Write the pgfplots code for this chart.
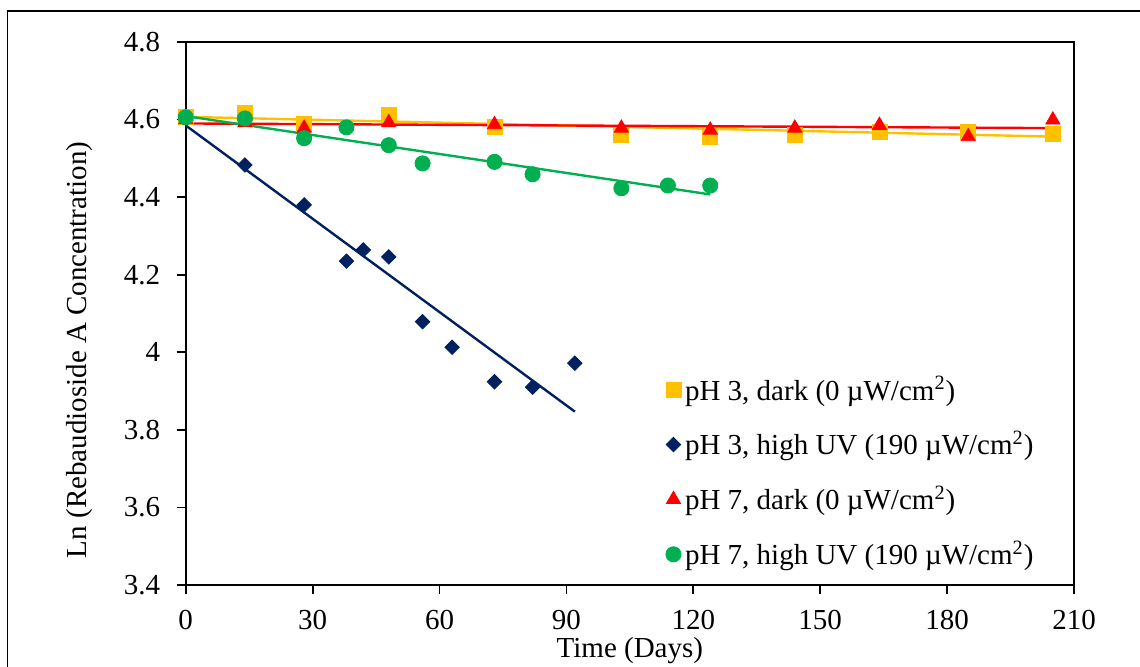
\documentclass[border=0pt]{standalone}
\usepackage{fontspec}
\setmainfont{Liberation Serif}
\usepackage{pgfplots}
\pgfplotsset{compat=1.18}

\definecolor{cdark3}{HTML}{FFC000}
\definecolor{cuv3}{HTML}{002060}
\definecolor{cdark7}{HTML}{FF0000}
\definecolor{cuv7}{HTML}{00B050}

\begin{document}
\begin{tikzpicture}[font=\fontsize{14.5}{17.4}\selectfont]
\clip (-92.85pt,-40.5pt) rectangle (477.15pt,292.5pt);
\path[use as bounding box] (-92.85pt,-40.5pt) rectangle (477.15pt,292.5pt);
% chart area frame (only left and top edges fall inside the picture)
\draw[line width=0.8pt] (-89.1pt,-80pt) rectangle (520pt,287pt);
\begin{axis}[
    scale only axis,
    width=444.15pt,
    height=271.5pt,
    xmin=0, xmax=210,
    ymin=3.4, ymax=4.8,
    xtick={0,30,60,90,120,150,180,210},
    ytick={3.4,3.6,3.8,4,4.2,4.4,4.6,4.8},
    yticklabels={3.4,3.6,3.8,4,4.2,4.4,4.6,4.8},
    tick align=outside,
    major tick length=4.5pt,
    tick style={black, line width=0.9pt},
    axis line style={line width=1pt},
    /pgf/number format/assume math mode=true,
    tick label style={font=\fontsize{14.5}{17.4}\selectfont},
    yticklabel style={xshift=-4.8pt},
    xticklabel style={yshift=-4.5pt},
    xtick pos=bottom, ytick pos=left,
    clip=false,
    xlabel={Time (Days)},
    ylabel={Ln (Rebaudioside A Concentration)},
    xlabel style={at={(axis description cs:0.5,-0.1215)}, anchor=center},
    ylabel style={at={(axis description cs:-0.119,0.433)}, anchor=center, rotate=0},
    legend cell align=left,
    legend style={draw=none, fill=none, at={(axis cs:112,3.96)}, anchor=north west,
        row sep=10pt, font=\fontsize{14.5}{17.4}\selectfont},
    legend image code/.code={\draw[#1] plot coordinates {(0.15cm,0cm)};},
]
% pH 3, dark
\addplot[only marks, mark=square*, mark size=3.75pt, color=cdark3] coordinates {
    (0,4.606) (14,4.616) (28,4.589) (48,4.612) (73,4.582) (103,4.560)
    (124,4.556) (144,4.560) (164,4.567) (185,4.569) (205,4.562)
};
\addlegendentry{pH 3, dark (0 µW/cm\textsuperscript{2})}
% pH 3, high UV
\addplot[only marks, mark=square*, mark options={rotate=45}, mark size=2.55pt, color=cuv3] coordinates {
    (0,4.605) (14,4.483) (28,4.380) (38,4.235) (42,4.264) (48,4.246)
    (56,4.079) (63,4.013) (73,3.924) (82,3.910) (92,3.972)
};
\addlegendentry{pH 3, high UV (190 µW/cm\textsuperscript{2})}
% pH 7, dark
\addplot[only marks, mark=triangle*, mark size=4.1pt, color=cdark7] coordinates {
    (0,4.600) (14,4.592) (28,4.578) (48,4.592) (73,4.587) (103,4.578)
    (124,4.573) (144,4.578) (164,4.585) (185,4.556) (205,4.599)
};
\addlegendentry{pH 7, dark (0 µW/cm\textsuperscript{2})}
% pH 7, high UV
\addplot[only marks, mark=*, mark size=3.8pt, color=cuv7] coordinates {
    (0,4.606) (14,4.603) (28,4.552) (38,4.580) (48,4.534) (56,4.487)
    (73,4.491) (82,4.459) (103,4.423) (114,4.430) (124,4.430)
};
\addlegendentry{pH 7, high UV (190 µW/cm\textsuperscript{2})}
% linear trendlines
\addplot[forget plot, color=cdark3, line width=1.2pt] coordinates {(0,4.607) (205,4.556)};
\addplot[forget plot, color=cuv3, line width=1.2pt] coordinates {(0,4.585) (92,3.847)};
\addplot[forget plot, color=cdark7, line width=1.2pt] coordinates {(0,4.590) (205,4.578)};
\addplot[forget plot, color=cuv7, line width=1.2pt] coordinates {(0,4.609) (124,4.407)};
\end{axis}
\end{tikzpicture}
\end{document}
